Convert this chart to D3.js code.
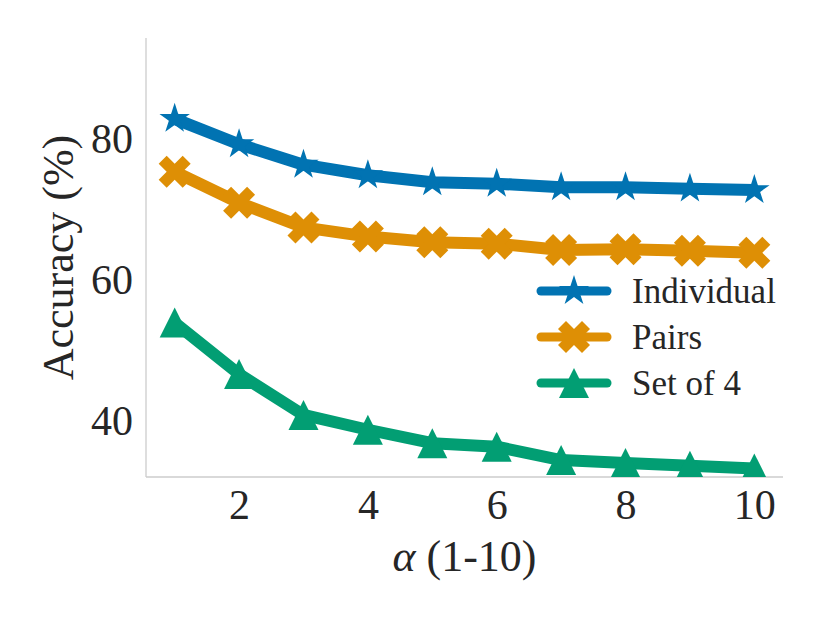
<!DOCTYPE html>
<html>
<head>
<meta charset="utf-8">
<script src="https://cdn.jsdelivr.net/npm/d3@7"></script>
<style>
  html, body { margin: 0; padding: 0; background: #ffffff; }
  svg { display: block; }
</style>
</head>
<body>
<svg id="chart" width="830" height="623"></svg>
<script>
// ---- data ----
const alphas = [1, 2, 3, 4, 5, 6, 7, 8, 9, 10];
const individual = [83.0, 79.4, 76.5, 75.0, 74.0, 73.8, 73.3, 73.3, 73.1, 72.9];
const pairs      = [75.5, 71.1, 67.6, 66.3, 65.5, 65.3, 64.4, 64.5, 64.3, 64.0];
const setOf4     = [54.1, 46.8, 41.0, 38.9, 37.0, 36.5, 34.6, 34.2, 33.8, 33.4];
const seriesNames = ["Individual", "Pairs", "Set of 4"];
const xTicks = [2, 4, 6, 8, 10];
const yTicks = [40, 60, 80];
const xLabel = "(1-10)";
const yLabel = "Accuracy (%)";

(function () {
const FONT = '"Liberation Serif", "DejaVu Serif", "Times New Roman", serif';
const INK = "#262626";
const svg = d3.select("#chart");
const pL = 146, pR = 783, pT = 38, pB = 477;
const x = d3.scaleLinear().domain([0.555, 10.445]).range([pL, pR]);
const y = d3.scaleLinear().domain([32.2, 94.47]).range([pB, pT]);

const colors = ["#0173b2", "#de8f05", "#029e73"];
const lineW = 12;

function starPath(R) {
  const r = R * 0.381966;
  const pts = [];
  for (let i = 0; i < 10; i++) {
    const a = -Math.PI / 2 + i * Math.PI / 5;
    const rr = i % 2 === 0 ? R : r;
    pts.push([rr * Math.cos(a), rr * Math.sin(a)]);
  }
  return "M" + pts.map(p => p[0].toFixed(2) + "," + p[1].toFixed(2)).join("L") + "Z";
}
function xFilledPath(k) {
  const v = [[-1,-2],[0,-1],[1,-2],[2,-1],[1,0],[2,1],[1,2],[0,1],[-1,2],[-2,1],[-1,0],[-2,-1]];
  return "M" + v.map(p => (p[0]*k).toFixed(2) + "," + (p[1]*k).toFixed(2)).join("L") + "Z";
}
function triPath(h) {
  return `M0,${-h}L${-h},${h}L${h},${h}Z`;
}
const markers = [starPath(16), xFilledPath(8), triPath(15)];

svg.append("defs").append("clipPath").attr("id", "plotclip")
  .append("rect").attr("x", pL).attr("y", pT).attr("width", pR - pL).attr("height", pB - pT);

// spines
svg.append("line").attr("x1", pL).attr("x2", pL).attr("y1", pT).attr("y2", pB)
  .attr("stroke", "#cccccc").attr("stroke-width", 1.3);
svg.append("line").attr("x1", pL).attr("x2", pR).attr("y1", pB).attr("y2", pB)
  .attr("stroke", "#cccccc").attr("stroke-width", 1.3);

// axes
const xAxis = d3.axisBottom(x).tickValues(xTicks).tickSize(0).tickPadding(0).tickFormat(d3.format("d"));
const gx = svg.append("g").attr("transform", `translate(0,${pB})`).call(xAxis)
  .attr("font-family", FONT).attr("font-size", 42);
gx.select(".domain").remove();
gx.selectAll("text").attr("y", 42).attr("dy", 0).attr("fill", INK)
  .attr("font-family", FONT).attr("font-size", 42);

const yAxis = d3.axisLeft(y).tickValues(yTicks).tickSize(0).tickPadding(0).tickFormat(d3.format("d"));
const gy = svg.append("g").attr("transform", `translate(${pL},0)`).call(yAxis)
  .attr("font-family", FONT).attr("font-size", 42);
gy.select(".domain").remove();
gy.selectAll("text").attr("x", -13).attr("dy", "0.30em").attr("fill", INK)
  .attr("font-family", FONT).attr("font-size", 42);

// axis labels
const xl = svg.append("text").attr("x", (pL + pR) / 2).attr("y", 571)
  .attr("text-anchor", "middle").attr("font-family", FONT).attr("font-size", 44).attr("fill", INK);
xl.append("tspan").attr("font-style", "italic").text("α");
xl.append("tspan").text(" " + xLabel);

svg.append("text").attr("transform", `translate(73,${(pT + pB) / 2}) rotate(-90)`)
  .attr("text-anchor", "middle").attr("font-family", FONT).attr("font-size", 44)
  .attr("fill", INK).text(yLabel);

// series
const allSeries = [individual, pairs, setOf4];
const line = d3.line().x((d, i) => x(alphas[i])).y(d => y(d));
const plot = svg.append("g").attr("clip-path", "url(#plotclip)");
allSeries.forEach((vals, si) => {
  const g = plot.append("g");
  g.append("path").datum(vals).attr("d", line)
    .attr("fill", "none").attr("stroke", colors[si]).attr("stroke-width", lineW)
    .attr("stroke-linejoin", "round").attr("stroke-linecap", "round");
  g.selectAll("path.mk").data(vals).join("path").attr("class", "mk")
    .attr("d", markers[si])
    .attr("transform", (d, i) => `translate(${x(alphas[i])},${y(d)})`)
    .attr("fill", colors[si]);
});

// legend
const legX0 = 541, legX1 = 607, legTextX = 632, legY0 = 291, legDy = 46;
seriesNames.forEach((name, si) => {
  const ly = legY0 + si * legDy;
  svg.append("line").attr("x1", legX0).attr("x2", legX1).attr("y1", ly).attr("y2", ly)
    .attr("stroke", colors[si]).attr("stroke-width", 9).attr("stroke-linecap", "round");
  svg.append("path").attr("d", markers[si])
    .attr("transform", `translate(${(legX0 + legX1) / 2},${ly})`).attr("fill", colors[si]);
  svg.append("text").attr("x", legTextX).attr("y", ly).attr("dy", "0.35em")
    .attr("font-family", FONT).attr("font-size", 35).attr("fill", INK).text(name);
});
})();
</script>
</body>
</html>
